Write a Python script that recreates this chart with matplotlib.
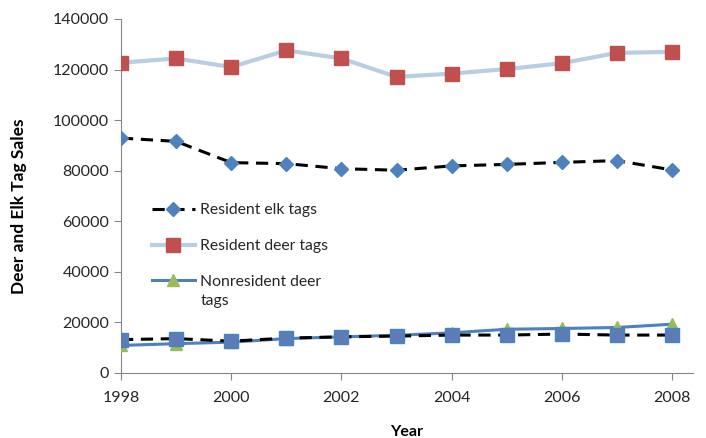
import numpy as np
import matplotlib
matplotlib.use("Agg")
import matplotlib.pyplot as plt

plt.rcParams['font.family'] = ['Lato', 'DejaVu Sans']

years = np.arange(1998, 2009)
resident_elk = [92900, 91600, 83200, 82800, 80800, 80200, 81900, 82500, 83300, 84000, 80300]
resident_deer = [122700, 124400, 121000, 127600, 124400, 117100, 118400, 120200, 122500, 126600, 127000]
nonres_deer = [10900, 11600, 12200, 13600, 14300, 14900, 15900, 17300, 17600, 18000, 19300]
nonres_elk = [13200, 13600, 12600, 13800, 14300, 14600, 15000, 15000, 15400, 15000, 15000]

fig = plt.figure(figsize=(7.06, 4.38), dpi=100)
ax = fig.add_axes([121/706, 65/438, 572/706, 354/438])

ax.plot(years, resident_elk, color="black", ls=(0, (4, 2.5)), lw=2.2,
        marker="D", ms=7, mfc="#4F81BD", mec="#4F81BD", label="Resident elk tags", zorder=3)
ax.plot(years, resident_deer, color="#B9CDE5", lw=3,
        marker="s", ms=10, mfc="#C0504D", mec="#C0504D", label="Resident deer tags", zorder=3)
ax.plot(years, nonres_deer, color="#4F81BD", lw=2.2,
        marker="^", ms=9, mfc="#9BBB59", mec="#9BBB59", label="Nonresident deer", zorder=3)
ax.plot(years, nonres_elk, color="black", ls=(0, (4, 2.5)), lw=2.2,
        marker="s", ms=10, mfc="#4F81BD", mec="#4F81BD", zorder=4)
ax.plot(years, nonres_elk, ls="none", marker="x", ms=7, mec="#7F6FA8", mew=0.8, zorder=5)

ax.set_xlim(1998, 2008.38)
ax.set_ylim(0, 140000)
ax.set_xticks(np.arange(1998, 2009, 2))
ax.set_yticks(np.arange(0, 140001, 20000))
for s in ["top", "right"]:
    ax.spines[s].set_visible(False)
for s in ["left", "bottom"]:
    ax.spines[s].set_color("#868686")
ax.tick_params(colors="#868686", labelcolor="#262626", labelsize=11.5, length=5)
ax.tick_params(axis="x", pad=8)
ax.set_xlabel("Year", fontsize=11.5, fontweight="bold", labelpad=14)
ax.set_ylabel("Deer and Elk Tag Sales", fontsize=12.5, fontweight="bold")
ax.yaxis.set_label_coords(-0.165, 0.47)

leg = ax.legend(loc="upper left", bbox_to_anchor=(0.03, 0.52), frameon=False,
                fontsize=11.3, handlelength=2.7, handletextpad=0.35,
                labelspacing=1.4, labelcolor="#262626")

# second line of the last legend entry, under its first line
fig.canvas.draw()
bb = leg.get_texts()[2].get_window_extent()
fig.text(bb.x0 / fig.dpi / 7.06, (bb.y0 - 19) / fig.dpi / 4.38, "tags",
         fontsize=11.3, color="#262626", va="bottom", ha="left")

plt.savefig("out.png", dpi=100)
